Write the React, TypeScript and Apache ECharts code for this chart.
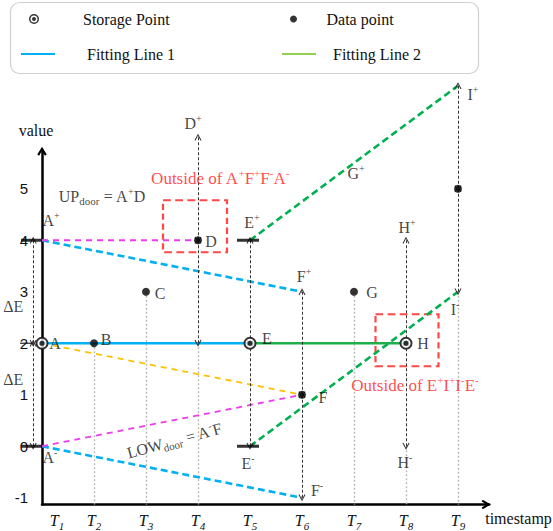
import React, { useEffect, useRef } from 'react';
import * as echarts from 'echarts';

const SERIF = '"Liberation Serif", "Times New Roman", serif';
const SANS = '"Liberation Sans", Arial, sans-serif';

// ---------- data ----------
const timestamps = [1, 2, 3, 4, 5, 6, 7, 8, 9];
const yTickValues = [-1, 0, 1, 2, 3, 4, 5];
const pointNames = ['A', 'B', 'C', 'D', 'E', 'F', 'G', 'H', 'I'];
const pointValues = [2, 2, 3, 4, 2, 1, 3, 2, 5];
const storageNames = ['A', 'E', 'H'];
const dataNames = ['B', 'C', 'D', 'F', 'G', 'I'];
const deltaE = 2;
const fittingLine1 = ['A', 'E'];
const fittingLine2 = ['E', 'H'];
const blueDoors = [['A+', 'F+'], ['A-', 'F-']];
const magentaDoors = [['A+', 'D'], ['A-', 'F']];
const orangeDoors = [['A', 'F']];
const greenDoors = [['E+', 'I+'], ['E-', 'I-']];
const arrowNames = ['A', 'D', 'E', 'F', 'H', 'I'];
const guideNames = ['B', 'C', 'D', 'G', 'H', 'I'];
const labelledKeys = ['A', 'B', 'C', 'D', 'E', 'F', 'G', 'H', 'A+', 'A-', 'D+', 'E+', 'E-', 'F+', 'F-', 'G+', 'H+', 'H-', 'I+', 'I-'];
const axisFloor = -1.13;
const axisTop = 5.75;
const axisRight = 9.6;

// ---------- styles ----------
const BULLSEYE =
  'path://M0,10A10,10,0,1,1,20,10A10,10,0,1,1,0,10ZM3,10A7,7,0,1,0,17,10A7,7,0,1,0,3,10ZM6,10A4,4,0,1,1,14,10A4,4,0,1,1,6,10Z';
const CHEVRON = 'path://M0,9L5,0L10,9L8.7,9.8L5,2.7L1.3,9.8Z';
const AXIS_ARROW = 'path://M0,8.4L5,0L10,8.4L8.1,9.5L5,4.3L1.9,9.5Z';

const labelOffsets: Record<string, [number, number]> = {
  A: [13, 0], B: [12, -4], C: [14, 2], D: [13, 1], E: [17, -5], F: [21, 3], G: [18, 1], H: [17, 0],
  'A+': [9, -20], 'A-': [8, 11], 'D+': [-5, -14], 'E+': [2, -18], 'E-': [-2, 17], 'F+': [2, -15],
  'F-': [15, -7], 'G+': [2, -15], 'H+': [1, -13], 'H-': [-1, 16], 'I+': [15, 9], 'I-': [-3, 18],
};

const rich: any = {
  base: { fontFamily: SERIF, fontSize: 16, color: '#111', lineHeight: 20 },
  sup: { fontFamily: SERIF, fontSize: 10, color: '#111', lineHeight: 10, verticalAlign: 'top' },
  sub: { fontFamily: SERIF, fontSize: 11, color: '#111', lineHeight: 11, verticalAlign: 'bottom' },
  red: { fontFamily: SERIF, fontSize: 17, color: '#ff1a1a', lineHeight: 21 },
  redSup: { fontFamily: SERIF, fontSize: 11, color: '#ff1a1a', lineHeight: 11, verticalAlign: 'top' },
};

function pt(key: string): [number, number] {
  const i = pointNames.indexOf(key[0]);
  let v = pointValues[i];
  if (key.endsWith('+')) v += deltaE;
  else if (key.endsWith('-')) v -= deltaE;
  return [timestamps[i], v];
}

function nameText(key: string, base = 'base', sup = 'sup') {
  const letter = key[0];
  const mark = key.slice(1);
  return `{${base}|${letter}}` + (mark ? `{${sup}|${mark}}` : '');
}

function buildOption(): any {
  const series: any[] = [];

  // grey dotted guides to the time axis
  series.push({
    type: 'lines', coordinateSystem: 'cartesian2d', silent: true, clip: false, z: 1,
    symbol: ['none', 'none'],
    lineStyle: { color: '#b8b8b8', width: 1.4, type: [2, 2], opacity: 1 },
    data: guideNames.map((n) => {
      const [t, v] = pt(n);
      const low = arrowNames.includes(n) ? v - deltaE : v;
      return { coords: [[t, low], [t, axisFloor]] };
    }),
  });

  // door lines (dashed)
  const door = (pairs: string[][], color: string, width: number, dash: number[]) =>
    pairs.map((p) => ({
      type: 'line', data: p.map(pt), showSymbol: false, symbol: 'none', clip: false, silent: true, z: 3,
      color, lineStyle: { color, width, type: dash }, emphasis: { disabled: true },
    }));
  series.push(
    ...door(blueDoors, '#00b0f0', 2.6, [7, 4]),
    ...door(magentaDoors, '#ee3bee', 1.8, [6, 5]),
    ...door(orangeDoors, '#ffc000', 1.8, [6, 5]),
    ...door(greenDoors, '#00b050', 2.6, [7, 4]),
  );

  // fitting lines
  series.push({
    type: 'line', name: 'Fitting Line 1', data: fittingLine1.map(pt), color: '#00b0f0',
    lineStyle: { width: 2.6 }, showSymbol: false, symbol: 'none', clip: false, z: 4, silent: true,
  });
  series.push({
    type: 'line', name: 'Fitting Line 2', data: fittingLine2.map(pt), color: '#1fae4a',
    lineStyle: { width: 2.6 }, showSymbol: false, symbol: 'none', clip: false, z: 4, silent: true,
  });

  // black dashed double-headed arrows (±ΔE)
  series.push({
    type: 'lines', coordinateSystem: 'cartesian2d', silent: true, clip: false, z: 5,
    symbol: [CHEVRON, CHEVRON], symbolSize: 7,
    itemStyle: { color: '#333' },
    lineStyle: { color: '#333', width: 1, type: [3, 2], opacity: 1 },
    data: arrowNames.flatMap((n) => {
      const [t, v] = pt(n);
      const x = n === 'A' ? t - 0.17 : t;
      return [
        { coords: [[x, v], [x, v + deltaE]] },
        { coords: [[x, v], [x, v - deltaE]] },
      ];
    }),
  });

  // bound markers
  series.push({
    type: 'scatter', silent: true, clip: false, z: 5, symbol: 'rect',
    itemStyle: { color: '#000' },
    data: [
      { value: pt('A+'), symbolSize: [21, 3], symbolOffset: [-10.5, 0] },
      { value: pt('A-'), symbolSize: [21, 3], symbolOffset: [-10.5, 0] },
      { value: pt('A'), symbolSize: [13, 1.3], symbolOffset: [-15.5, 0] },
      { value: pt('E+'), symbolSize: [22, 3], symbolOffset: [-2, 0] },
      { value: pt('E-'), symbolSize: [22, 3], symbolOffset: [-2, 0] },
    ],
  });

  // red dashed boxes
  series.push({
    type: 'scatter', silent: true, clip: false, z: 2, symbol: 'rect',
    itemStyle: { color: 'rgba(0,0,0,0)', borderColor: '#ff1a1a', borderWidth: 2, borderType: [7, 4] },
    data: [
      { value: pt('D'), symbolSize: [64, 52], symbolOffset: [-3, -14] },
      { value: pt('H'), symbolSize: [63, 52], symbolOffset: [1, -3] },
    ],
  });

  // points
  series.push({
    type: 'scatter', silent: true, clip: false, z: 6, symbol: 'circle', symbolSize: 12,
    itemStyle: { color: '#fff' }, data: storageNames.map(pt),
  });
  series.push({
    type: 'scatter', name: 'Storage Point', silent: true, clip: false, z: 7, symbol: BULLSEYE,
    symbolSize: 13, itemStyle: { color: '#000' }, data: storageNames.map(pt),
  });
  series.push({
    type: 'scatter', name: 'Data point', silent: true, clip: false, z: 7, symbol: 'circle',
    symbolSize: 8, itemStyle: { color: '#000' }, data: dataNames.map(pt),
  });

  // annotations
  const lab = (value: [number, number], offset: [number, number], formatter: string, rotate = 0) => ({
    value,
    label: {
      show: true, position: 'inside', offset, formatter, rotate, rich,
      color: '#111', textBorderWidth: 0,
    },
  });
  const aArrowX = pt('A')[0] - 0.17;
  const annotations = [
    ...labelledKeys.map((k) => lab(pt(k), labelOffsets[k], nameText(k))),
    lab([aArrowX, pt('A')[1] + deltaE / 2], [-20, 15], '{base|ΔE}'),
    lab([aArrowX, pt('A')[1] - deltaE / 2], [-20, -15], '{base|ΔE}'),
    lab(pt('A+'), [60, -44], '{base|UP}{sub|door}{base| = A}{sup|+}{base|D}'),
    lab(
      [(pt('A-')[0] + pt('F')[0]) / 2, (pt('A-')[1] + pt('F')[1]) / 2],
      [-3, 20],
      '{base|LOW}{sub|door}{base| = A}{sup|-}{base|F}',
      15,
    ),
    lab(pt('D'), [22, -62], '{red|Outside of A}{redSup|+}{red|F}{redSup|+}{red|F}{redSup|-}{red|A}{redSup|-}'),
    lab(pt('H'), [9, 42], '{red|Outside of E}{redSup|+}{red|I}{redSup|+}{red|I}{redSup|-}{red|E}{redSup|-}'),
  ];
  series.push({
    type: 'scatter', silent: true, clip: false, z: 10, symbol: 'circle', symbolSize: 1,
    itemStyle: { color: 'rgba(0,0,0,0)' }, data: annotations,
  });

  const legendText = { fontFamily: SERIF, fontSize: 16, color: '#111' };
  const oneLegend = (name: string, left: number, top: number, pad: number, itemHeight: number, item: any) => ({
    left, top, padding: 0, itemWidth: 34, itemHeight, selectedMode: false,
    data: [{ name, ...item }],
    textStyle: { ...legendText, padding: [0, 0, 0, pad] },
  });

  return {
    animation: false,
    backgroundColor: '#fff',
    grid: {
      left: 42, right: 553 - (42 + (axisRight - 1) * 52), top: 446.25 - 51.5 * axisTop,
      bottom: 531 - (446.25 - 51.5 * axisFloor), containLabel: false, outerBoundsMode: 'none',
    },
    xAxis: {
      type: 'value', min: 1, max: axisRight,
      axisLine: {
        show: true, onZero: false, symbol: ['none', AXIS_ARROW], symbolSize: [10, 9], symbolOffset: [0, -3],
        lineStyle: { color: '#000', width: 2.5 },
      },
      axisTick: { show: false }, splitLine: { show: false },
      axisLabel: {
        customValues: timestamps, margin: 5,
        formatter: (v: number) => (v === 1 ? `{t1|T}{s|${v}}` : `{t|T}{s|${v}}`),
        rich: {
          t: { fontFamily: SERIF, fontStyle: 'italic', fontSize: 16, color: '#111', lineHeight: 22 },
          t1: { fontFamily: SERIF, fontStyle: 'italic', fontSize: 16, color: '#111', lineHeight: 22, padding: [0, 0, 0, 30] },
          s: { fontFamily: SERIF, fontStyle: 'italic', fontSize: 11, color: '#111', lineHeight: 12, verticalAlign: 'bottom' },
        },
      },
      name: 'timestamp', nameLocation: 'end', nameGap: -4,
      nameTextStyle: { fontFamily: SERIF, fontSize: 16, color: '#111', verticalAlign: 'top', padding: [6, 0, 0, 0] },
    },
    yAxis: {
      type: 'value', min: axisFloor, max: axisTop,
      axisLine: {
        show: true, onZero: false, symbol: ['none', AXIS_ARROW], symbolSize: [10, 9], symbolOffset: [0, -1],
        lineStyle: { color: '#000', width: 2.5 },
      },
      axisTick: { show: false }, splitLine: { show: false },
      axisLabel: { customValues: yTickValues, margin: 14, fontFamily: SANS, fontSize: 15, color: '#111' },
      name: 'value', nameLocation: 'end', nameGap: 12,
      nameTextStyle: { fontFamily: SERIF, fontSize: 16, color: '#111', padding: [0, 12, 0, 0] },
    },
    legend: [
      oneLegend('Storage Point', 29, 11, 27, 10, {}),
      oneLegend('Data point', 290, 11, 11, 7, { icon: 'circle' }),
      oneLegend('Fitting Line 1', 21, 46, 27, 2, { icon: 'rect' }),
      oneLegend('Fitting Line 2', 282, 46, 12, 2, { icon: 'rect', itemStyle: { color: '#92d050' } }),
    ],
    graphic: [
      {
        type: 'rect', silent: true, z: -1,
        shape: { x: 10.5, y: 2.5, width: 468, height: 71, r: 9 },
        style: { fill: 'none', stroke: '#d0d0d0', lineWidth: 1.2 },
      },
    ],
    series,
  };
}

export default function App() {
  const ref = useRef<HTMLDivElement>(null);
  useEffect(() => {
    if (!ref.current) return;
    const chart = echarts.init(ref.current, null, { renderer: 'svg' });
    chart.setOption(buildOption());
    return () => chart.dispose();
  }, []);
  return (
    <div
      ref={ref}
      style={{ position: 'fixed', left: 0, top: 0, width: 553, height: 531, background: '#fff' }}
    />
  );
}
